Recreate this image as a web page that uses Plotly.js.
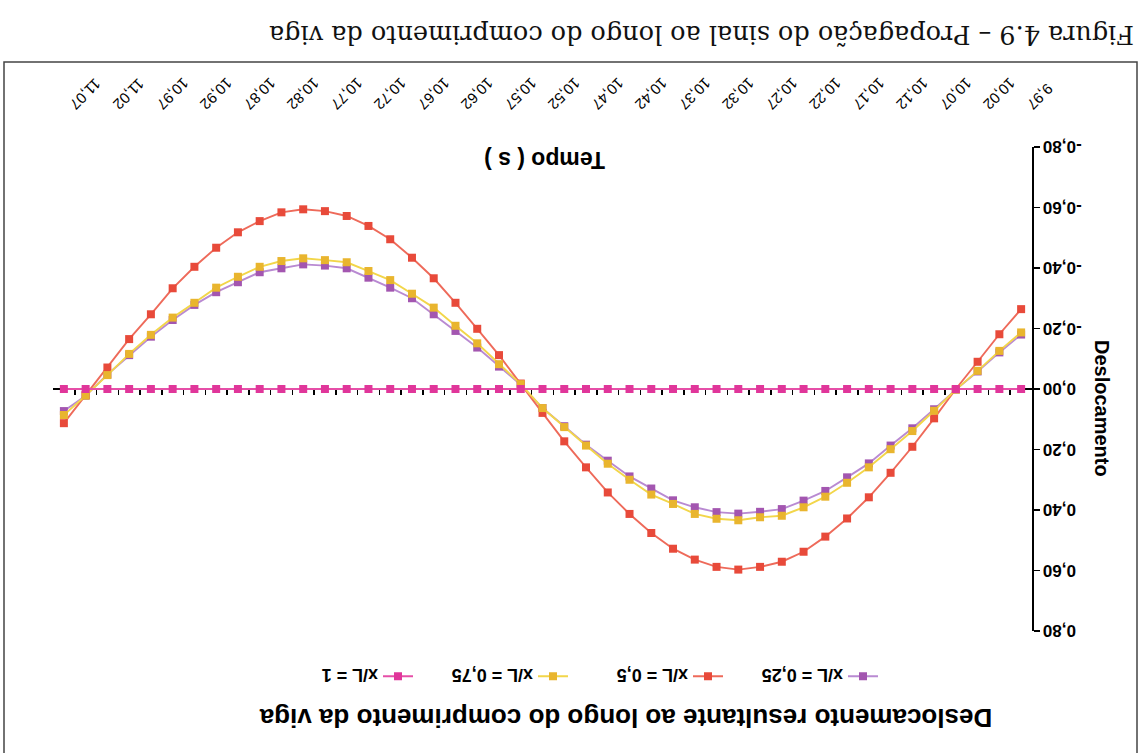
<!DOCTYPE html>
<html>
<head>
<meta charset="utf-8">
<script src="https://cdn.plot.ly/plotly-3.0.1.min.js"></script>
<style>
html,body{margin:0;padding:0;background:#fff;overflow:hidden;}
#wrap{position:absolute;left:0;top:0;width:1145px;height:753px;transform:rotate(180deg);transform-origin:50% 50%;}
#chart{width:1145px;height:753px;}
</style>
</head>
<body>
<div id="wrap"><div id="chart"></div></div>
<script>
// categories (time, s)
const timeCats = ["9,97","9,995","10,02","10,045","10,07","10,095","10,12","10,145","10,17","10,195",
  "10,22","10,245","10,27","10,295","10,32","10,345","10,37","10,395","10,42","10,445",
  "10,47","10,495","10,52","10,545","10,57","10,595","10,62","10,645","10,67","10,695",
  "10,72","10,745","10,77","10,795","10,82","10,845","10,87","10,895","10,92","10,945",
  "10,97","10,995","11,02","11,045","11,07"];
const xTickLabels = ["9,97","10,02","10,07","10,12","10,17","10,22","10,27","10,32","10,37","10,42",
  "10,47","10,52","10,57","10,62","10,67","10,72","10,77","10,82","10,87","10,92","10,97","11,02","11,07"];
const yTickVals = [-0.8,-0.6,-0.4,-0.2,0,0.2,0.4,0.6,0.8];
const yTickText = ["-0,80","-0,60","-0,40","-0,20","0,00","0,20","0,40","0,60","0,80"];
const seriesNames = ["x/L = 0,25","x/L = 0,5","x/L = 0,75","x/L = 1"];

// series values (deslocamento)
const xL025 = [-0.180,-0.121,-0.058,0.002,0.067,0.130,0.187,0.246,0.292,0.337,
  0.369,0.397,0.406,0.412,0.407,0.391,0.368,0.329,0.289,0.237,
  0.184,0.123,0.063,-0.014,-0.074,-0.137,-0.192,-0.247,-0.300,-0.335,
  -0.368,-0.399,-0.408,-0.412,-0.399,-0.386,-0.353,-0.320,-0.278,-0.228,
  -0.173,-0.112,-0.048,0.022,0.073];
const xL05 = [-0.264,-0.181,-0.090,0.000,0.097,0.191,0.277,0.358,0.428,0.488,
  0.538,0.571,0.588,0.597,0.588,0.564,0.528,0.476,0.413,0.342,
  0.259,0.173,0.079,-0.018,-0.112,-0.199,-0.285,-0.366,-0.434,-0.495,
  -0.539,-0.572,-0.588,-0.594,-0.584,-0.555,-0.518,-0.467,-0.404,-0.333,
  -0.247,-0.165,-0.071,0.020,0.113];
const xL075 = [-0.187,-0.126,-0.060,0.002,0.072,0.139,0.199,0.259,0.310,0.356,
  0.391,0.419,0.424,0.434,0.429,0.413,0.380,0.349,0.300,0.247,
  0.187,0.126,0.063,-0.016,-0.082,-0.151,-0.209,-0.269,-0.315,-0.360,
  -0.390,-0.419,-0.426,-0.432,-0.423,-0.404,-0.371,-0.335,-0.285,-0.236,
  -0.179,-0.116,-0.046,0.022,0.086];
const xL1 = [0,0,0,0,0,0,0,0,0,0, 0,0,0,0,0,0,0,0,0,0, 0,0,0,0,0,0,0,0,0,0,
  0,0,0,0,0,0,0,0,0,0, 0,0,0,0,0];

const markerColors = ["#A356B0","#E84A3A","#E9B52E","#E0369A"];
const lineColors = ["#B98AD2","#EE6A5A","#F2D64A","#E64FA8"];
const ARIAL = "Arial, 'Liberation Sans', sans-serif";

function mk(y, k, xa) {
  return {
    type: "scatter", mode: "lines+markers", x: timeCats, y: y, name: seriesNames[k],
    xaxis: xa, yaxis: "y",
    line: {color: lineColors[k], width: 1.9},
    marker: {symbol: "square", size: 8, color: markerColors[k]}
  };
}
const traces = [mk(xL025,0,"x"), mk(xL05,1,"x"), mk(xL075,2,"x"), mk(xL1,3,"x2")];

// geometry helpers (plot area l=113..1092, t=122..606)
const L = 113, R = 1092, T = 122, B = 606;
const px = X => (X - L) / (R - L);
const py = Y => (B - Y) / (B - T);

const layout = {
  width: 1145, height: 753,
  margin: {l: L, r: 1145 - R, t: T, b: 753 - B, pad: 0},
  paper_bgcolor: "#ffffff", plot_bgcolor: "#ffffff",
  showlegend: true,
  title: {
    text: "Deslocamento resultante ao longo do comprimento da viga",
    font: {family: ARIAL, size: 26, weight: "bold", color: "#000"},
    xref: "container", x: 519 / 1145, xanchor: "center",
    yref: "container", y: 1 - 35 / 753, yanchor: "middle"
  },
  legend: {
    orientation: "h", xref: "container", x: 262 / 1145, xanchor: "left",
    yref: "container", y: 1 - 77 / 753, yanchor: "middle",
    font: {family: ARIAL, size: 18, weight: "bold", color: "#000"},
    entrywidth: 110, entrywidthmode: "pixels", bgcolor: "rgba(0,0,0,0)",
    traceorder: "normal"
  },
  xaxis: {
    type: "category", range: [-0.5, 44.5], showgrid: false, zeroline: false, showline: false,
    ticks: "", tickmode: "array", tickvals: xTickLabels, ticktext: xTickLabels,
    tickangle: -45, tickfont: {family: ARIAL, size: 15, color: "#000"},
    ticklabelstandoff: 30, ticklabelshift: -10, fixedrange: true
  },
  xaxis2: {
    type: "category", overlaying: "x", anchor: "free", position: 0.5, range: [-0.5, 44.5],
    showgrid: false, zeroline: false, showline: true, linecolor: "#000", linewidth: 2,
    ticks: "inside", ticklen: 5, tickwidth: 1.5, tickcolor: "#000", tickson: "boundaries",
    dtick: 1, showticklabels: false, layer: "below traces", fixedrange: true
  },
  yaxis: {
    range: [-0.8, 0.8], showgrid: false, zeroline: false, showline: true,
    linecolor: "#000", linewidth: 1.5, ticks: "outside", ticklen: 6, tickwidth: 1.5, tickcolor: "#000",
    tickmode: "array", tickvals: yTickVals, ticktext: yTickText,
    tickfont: {family: ARIAL, size: 17, weight: "bold", color: "#000"}, fixedrange: true
  },
  annotations: [
    {text: "Deslocamento", textangle: -90, showarrow: false, xref: "paper", yref: "paper",
     x: px(43), y: py(345), xanchor: "center", yanchor: "middle",
     font: {family: ARIAL, size: 20, weight: "bold", color: "#000"}},
    {text: "Tempo ( s )", showarrow: false, xref: "paper", yref: "paper",
     x: px(600), y: py(593), xanchor: "center", yanchor: "middle",
     font: {family: ARIAL, size: 23, weight: "bold", color: "#000"}},
    {text: "Figura 4.9 – Propagação do sinal ao longo do comprimento da viga", showarrow: false,
     xref: "paper", yref: "paper", x: px(9), y: py(718), xanchor: "left", yanchor: "middle",
     font: {family: "'DejaVu Serif', 'Liberation Serif', serif", size: 25.5, color: "#111"}}
  ],
  shapes: [
    {type: "rect", xref: "paper", yref: "paper", x0: px(8), x1: px(1141), y0: py(691), y1: py(-20),
     line: {color: "#444", width: 1.5}, fillcolor: "rgba(0,0,0,0)", layer: "below"}
  ]
};

Plotly.newPlot("chart", traces, layout, {displayModeBar: false, staticPlot: true});
</script>
</body>
</html>
